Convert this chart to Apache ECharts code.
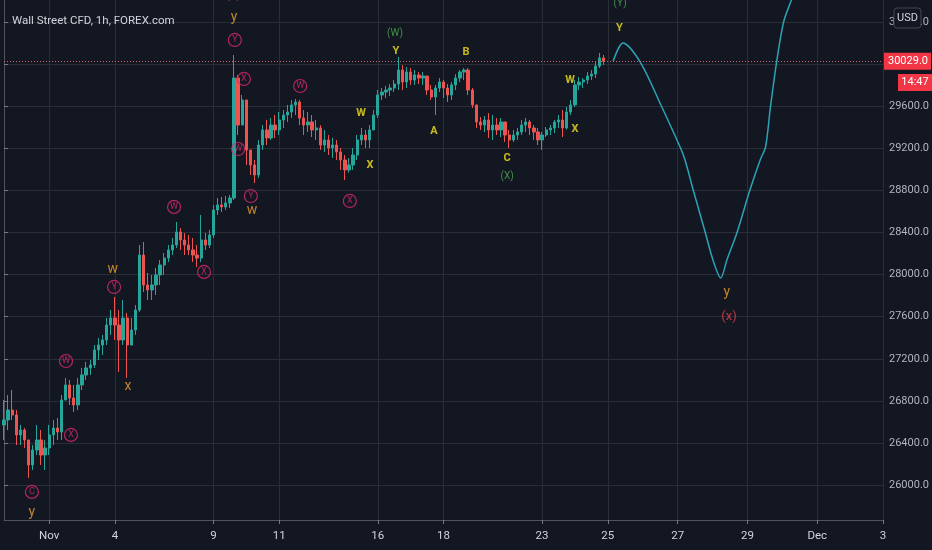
<!DOCTYPE html>
<html><head><meta charset="utf-8">
<script src="https://cdn.jsdelivr.net/npm/echarts/dist/echarts.min.js"></script>
<style>html,body{margin:0;padding:0;background:#131722;}#c{width:932px;height:550px;}</style>
</head><body><div id="c"></div><script>
// ---------- data ----------
const chartTitle = 'Wall Street CFD, 1h, FOREX.com';
const sessionDays = ['Oct 30','Nov 1','Nov 3','Nov 4','Nov 5','Nov 6','Nov 9','Nov 10','Nov 11','Nov 12','Nov 13','Nov 16','Nov 17','Nov 18','Nov 19','Nov 20','Nov 23','Nov 24','Nov 25','Nov 26','Nov 27','Nov 28','Nov 29','Nov 30','Dec 1','Dec 2','Dec 3'];
const sessionBars = [11,8,8,8,8,8,8,8,8,8,8,8,8,8,8,8,8,8,8,9,8,9,8,9,8,8,1];
const shownDays = ['Nov 1','Nov 4','Nov 9','Nov 11','Nov 16','Nov 18','Nov 23','Nov 25','Nov 27','Nov 29','Dec 1','Dec 3'];

const firstOpen = 26571;
const closes = [26618,26713,26666,26476,26523,26428,26190,26333,26428,26285,
26352,26476,26542,26504,26808,26951,26827,26761,26951,27046,
27113,27141,27284,27331,27379,27521,27588,27521,27379,27588,
27331,27474,27664,28187,27902,27855,27902,27997,28092,28158,
28235,28282,28406,28330,28282,28235,28187,28158,28330,28282,
28377,28615,28663,28644,28682,28729,29870,29423,29661,29186,
29043,28948,29233,29376,29300,29423,29376,29471,29518,29547,
29614,29642,29490,29423,29452,29376,29395,29233,29281,29205,
29233,29167,29091,28996,29043,29138,29281,29328,29281,29376,
29518,29709,29737,29756,29775,29813,29946,29832,29927,29851,
29899,29870,29889,29756,29690,29775,29832,29775,29709,29804,
29870,29927,29946,29756,29614,29452,29423,29471,29376,29423,
29376,29452,29328,29281,29328,29357,29423,29452,29395,29357,
29281,29328,29376,29395,29452,29471,29395,29547,29614,29804,
29832,29851,29889,29908,29984,30061,30029];
const highs = [26808,26856,26903,26713,26571,26542,26428,26380,26571,26523,
26428,26571,26618,26637,26856,27018,26999,26951,27018,27113,
27170,27189,27331,27398,27427,27588,27664,27788,27664,27759,
27636,27588,27712,28282,28311,28016,27997,28064,28139,28206,
28282,28349,28501,28444,28396,28377,28349,28282,28568,28396,
28425,28663,28729,28739,28748,28758,30089,29899,29709,29661,
29186,29091,29281,29423,29471,29490,29518,29547,29566,29614,
29661,29671,29661,29566,29547,29518,29471,29423,29376,29328,
29300,29281,29205,29138,29110,29205,29328,29395,29376,29423,
29566,29756,29775,29794,29813,29851,30070,29994,29975,29965,
29946,29927,29927,29889,29804,29804,29870,29851,29813,29832,
29908,29946,29965,29965,29775,29614,29499,29509,29537,29518,
29490,29490,29452,29376,29376,29395,29471,29490,29471,29423,
29395,29357,29404,29423,29471,29518,29566,29595,29661,29851,
29880,29870,29927,29946,30022,30108,30089];
const lows = [26428,26523,26618,26380,26380,26352,26067,26143,26285,26190,
26143,26285,26380,26428,26428,26808,26761,26694,26713,26903,
26999,27046,27113,27189,27236,27331,27427,27379,27075,27331,
27018,27331,27427,27645,27836,27759,27759,27807,27902,27997,
28120,28187,28254,28235,28187,28187,28120,28073,28120,28235,
28254,28349,28568,28596,28615,28634,28710,29328,29423,29043,
28948,28872,28920,29186,29233,29281,29300,29328,29395,29452,
29490,29518,29423,29328,29357,29309,29281,29186,29167,29138,
29110,29091,28996,28900,28970,28996,29091,29233,29205,29205,
29376,29490,29661,29680,29699,29737,29756,29756,29775,29804,
29804,29813,29804,29709,29661,29518,29737,29680,29642,29661,
29756,29832,29851,29709,29585,29395,29376,29357,29300,29281,
29328,29309,29262,29205,29262,29281,29328,29357,29328,29281,
29233,29186,29309,29328,29347,29395,29309,29380,29518,29595,
29756,29775,29813,29851,29870,29965,29994];

const lastPrice = 30029.0;
const countdown = '14:47';

// projected path (bar position, price)
const projX = [148.3,150.7,154.9,159.7,164.6,165.8,167.8,170.7,172.6,174.5,176.0,178.5,181.6,184.1,185.4,186.6,188.1,189.8,191.7,193.9];
const projY = [30029,30203,30022,29633,29214,29091,28805,28406,28140,27969,28140,28406,28805,29091,29214,29595,30022,30403,30612,30850];

// wave labels (bar position, price, text, kind)
const annX = [55.8,56.0,56.2,58.4,72.1,57.0,60.1,60.4,41.4,48.7,26.5,26.8,15.1,30.2,16.3,6.8,6.8,84.2,86.9,89.1,95.2,95.4,104.7,112.5,122.5,122.5,137.8,139.0,150.0,149.8,176.0,176.5];
const annY = [30660,30441,30232,29861,29794,29195,28748,28606,28644,28026,28045,27883,27179,26932,26476,25934,25734,28701,29537,29043,30289,30127,29366,30118,29110,28929,29851,29385,30574,30346,27826,27598];
const annText = ['(x)','y','Y','X','W','W','Y','w','W','X','w','Y','W','x','X','C','y','X','W','X','(W)','Y','A','B','C','(X)','W','X','(Y)','Y','y','(x)'];
const annKind = ['red','orange','circle','circle','circle','circle','circle','orange','circle','circle','orange','circle','circle','orange','circle','circle','orange','circle','yellow','yellow','green','yellow','yellow','yellow','yellow','green','yellow','yellow','green','yellow','orange','red'];

const yGridValues = [26000,26400,26800,27200,27600,28000,28400,28800,29200,29600,30000,30400];
const yLabelValues = [26000,26400,26800,27200,27600,28000,28400,28800,29200,29600,30400];

// ---------- build ----------
const FONT = "Roboto, 'Liberation Sans', sans-serif";
const categories = [];
sessionDays.forEach((d, k) => { for (let j = 0; j < sessionBars[k]; j++) categories.push(d + '|' + j); });
const N = categories.length;
const showIdx = (i, v) => { const p = String(v).split('|'); return p[1] === '0' && shownDays.indexOf(p[0]) >= 0; };
const dayLabel = v => { const d = String(v).split('|')[0].split(' '); return d[1] === '1' ? d[0] : d[1]; };

const candles = closes.map((c, i) => {
  const o = i === 0 ? firstOpen : closes[i - 1];
  return [o, c, Math.min(lows[i], o, c), Math.max(highs[i], o, c)];
});

const kindStyle = {
  circle: {color: '#e0286e', size: 9, weight: 'normal'},
  yellow: {color: '#f2e21b', size: 11, weight: 'bold'},
  orange: {color: '#f0a12e', size: 14, weight: 'normal'},
  green:  {color: '#4caf50', size: 10, weight: 'normal'},
  red:    {color: '#e8434f', size: 13, weight: 'normal'}
};
const annData = annX.map((x, i) => {
  const k = kindStyle[annKind[i]];
  const circ = annKind[i] === 'circle';
  return {
    value: [x, annY[i]],
    symbol: 'circle',
    symbolSize: circ ? 13 : 1,
    itemStyle: circ ? {color: 'rgba(0,0,0,0)', borderColor: '#e0286e', borderWidth: 1.2} : {color: 'rgba(0,0,0,0)'},
    label: {show: true, position: 'inside', formatter: annText[i], color: k.color, fontSize: k.size, fontWeight: k.weight, fontFamily: 'Roboto, sans-serif'}
  };
});

const chart = echarts.init(document.getElementById('c'), null, {renderer: 'canvas'});
chart.setOption({
  backgroundColor: '#131722',
  animation: false,
  title: {text: chartTitle, left: 7, top: 10, textStyle: {color: '#d1d4dc', fontSize: 11.5, fontWeight: 'normal', fontFamily: FONT}},
  grid: {left: 4, right: 49, top: 0, bottom: 30},
  xAxis: [{
    type: 'category', data: categories, boundaryGap: false,
    axisLine: {lineStyle: {color: '#50535e'}},
    axisTick: {show: true, interval: showIdx, length: 4, lineStyle: {color: '#787b86'}},
    axisLabel: {interval: showIdx, formatter: dayLabel, color: '#d1d4dc', fontSize: 11.5, fontFamily: FONT, margin: 10},
    splitLine: {show: true, interval: showIdx, lineStyle: {color: '#2a2e39'}}
  }, {
    type: 'value', min: 0, max: N - 1, show: false
  }],
  yAxis: {
    type: 'value', position: 'right', min: 25667, max: 30612, scale: true,
    axisLine: {show: true, lineStyle: {color: '#50535e'}},
    axisTick: {show: true, length: 4, customValues: yGridValues, lineStyle: {color: '#787b86'}},
    axisLabel: {customValues: yLabelValues, formatter: v => v.toFixed(1), color: '#b2b5be', fontSize: 11, fontFamily: FONT, margin: 6},
    splitLine: {show: true, lineStyle: {color: '#2a2e39'}}
  },
  series: [{
    type: 'candlestick', xAxisIndex: 0, data: candles, barWidth: 2.8,
    itemStyle: {color: '#26a69a', color0: '#ef5350', borderColor: '#26a69a', borderColor0: '#ef5350', borderWidth: 1},
    markLine: {
      silent: true, symbol: ['none', 'none'],
      data: [{yAxis: lastPrice}],
      lineStyle: {color: '#d6646e', type: [1, 2], width: 1},
      label: {show: true, position: 'end', distance: 1, formatter: lastPrice.toFixed(1), color: '#ffffff', backgroundColor: '#f23645', padding: [3, 3, 3, 4], fontSize: 11, fontFamily: FONT}
    }
  }, {
    type: 'line', xAxisIndex: 1, data: projX.map((x, i) => [x, projY[i]]),
    smooth: 0.3, showSymbol: false, symbol: 'none', silent: true,
    lineStyle: {color: '#2ba3b4', width: 1.5}
  }, {
    type: 'scatter', xAxisIndex: 1, data: annData, clip: false, silent: true, z: 5
  }],
  graphic: [
    {type: 'rect', z: 100, shape: {x: 894, y: 8, width: 27, height: 20, r: 3}, style: {fill: '#131722', stroke: '#434651', lineWidth: 1}},
    {type: 'text', z: 101, x: 907.5, y: 18, style: {text: 'USD', fill: '#d1d4dc', font: "11px " + FONT, textAlign: 'center', textVerticalAlign: 'middle'}},
    {type: 'rect', z: 100, shape: {x: 898, y: 74, width: 34, height: 17}, style: {fill: '#f23645'}},
    {type: 'text', z: 101, x: 915, y: 82.5, style: {text: countdown, fill: '#ffffff', font: "11px " + FONT, textAlign: 'center', textVerticalAlign: 'middle'}}
  ]
});
</script></body></html>
